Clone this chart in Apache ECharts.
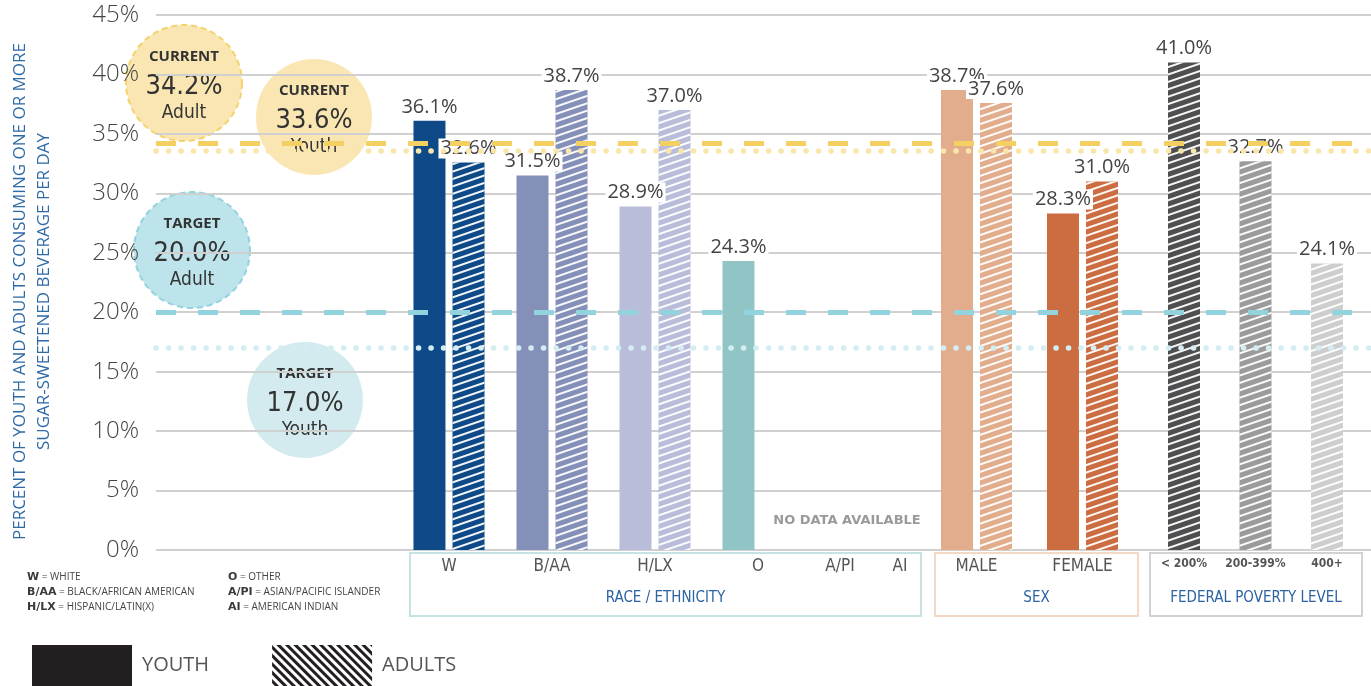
<!DOCTYPE html>
<html>
<head>
<meta charset="utf-8">
<title>Sugar-sweetened beverages</title>
<script src="https://cdn.jsdelivr.net/npm/echarts@6/dist/echarts.min.js"></script>
<style>
html, body { margin: 0; padding: 0; background: #fff; }
#chart { width: 1371px; height: 686px; }
</style>
</head>
<body>
<div id="chart"></div>
<script>
// data
var raceCats = ['W', 'B/AA', 'H/LX', 'O'];
var raceYouth = [36.1, 31.5, 28.9, 24.3];
var raceAdults = [32.6, 38.7, 37.0, null];
var noDataCats = ['A/PI', 'AI'];
var sexCats = ['MALE', 'FEMALE'];
var sexYouth = [38.7, 28.3];
var sexAdults = [37.6, 31.0];
var fplCats = ['< 200%', '200-399%', '400+'];
var fplAdults = [41.0, 32.7, 24.1];
var currentAdult = 34.2;
var currentYouth = 33.6;
var targetAdult = 20.0;
var targetYouth = 17.0;
var groupNames = ['RACE / ETHNICITY', 'SEX', 'FEDERAL POVERTY LEVEL'];
var abbrShort = ['W', 'B/AA', 'H/LX', 'O', 'A/PI', 'AI'];
var abbrLong = ['WHITE', 'BLACK/AFRICAN AMERICAN', 'HISPANIC/LATIN(X)', 'OTHER', 'ASIAN/PACIFIC ISLANDER', 'AMERICAN INDIAN'];

var raceColors = ['#0e4a88', '#8590b9', '#b9bdd9', '#91c5c5'];
var sexColors = ['#e2ad8c', '#cb6d40'];
var fplColors = ['#4f4f51', '#9b9b9b', '#cecece'];

var narrow = "'Liberation Sans Narrow', 'DejaVu Sans Condensed', 'Roboto', sans-serif";
var sans = "'Open Sans', 'Noto Sans', sans-serif";

var chartObj = {
    chart : null,
    top : 15,
    bottom : 136,
    init : function() {
        this.chart = echarts.init(document.getElementById('chart'));
        this.chart.setOption(this.buildOption());
    },
    stripe : function() {
        return {
            symbol : 'rect',
            symbolSize : 1,
            dashArrayX : [1, 0],
            dashArrayY : [2, 4.6],
            rotation : -0.33,
            color : 'rgba(255,255,255,0.95)'
        };
    },
    coloured : function(values, colors) {
        var out = [];
        values.forEach(function(v, i) {
            out.push({
                value : v,
                itemStyle : {
                    color : colors[i]
                }
            });
        });
        return out;
    },
    barLabel : function() {
        return {
            show : true,
            position : 'top',
            distance : 4,
            fontFamily : sans,
            fontSize : 20,
            color : '#444',
            backgroundColor : '#fff',
            padding : [0, 2],
            formatter : function(p) {
                return p.value == null ? '' : p.value.toFixed(1) + '%';
            }
        };
    },
    catAxis : function(idx, cats, size, weight) {
        return {
            type : 'category',
            gridIndex : idx,
            data : cats,
            axisLine : {
                show : false
            },
            axisTick : {
                show : false
            },
            axisLabel : {
                interval : 0,
                margin : 8,
                fontFamily : narrow,
                fontSize : size,
                fontWeight : weight,
                color : '#555'
            }
        };
    },
    hiddenY : function(idx) {
        return {
            type : 'value',
            gridIndex : idx,
            min : 0,
            max : 45,
            show : false
        };
    },
    barSeries : function(name, idx, values, colors, hatched) {
        var s = {
            name : name,
            type : 'bar',
            xAxisIndex : idx,
            yAxisIndex : idx,
            data : this.coloured(values, colors),
            barWidth : 32,
            barGap : '22%',
            itemStyle : {
                color : '#231f20'
            },
            label : this.barLabel(),
            z : 2
        };
        if (hatched) {
            s.itemStyle.decal = this.stripe();
        }
        return s;
    },
    bubble : function(cx, cy, head, value, who, fill, border) {
        var circle = {
            type : 'circle',
            shape : {
                cx : cx,
                cy : cy,
                r : 58
            },
            style : {
                fill : fill,
                opacity : 0.92,
                stroke : border || null,
                lineWidth : border ? 2 : 0,
                lineDash : border ? [6, 4] : null
            }
        };
        var txt = function(t, dy, size, weight, font) {
            return {
                type : 'text',
                x : cx,
                y : cy + dy,
                style : {
                    text : t,
                    fill : '#333',
                    font : weight + ' ' + size + 'px ' + font,
                    align : 'center',
                    verticalAlign : 'middle'
                }
            };
        };
        return {
            type : 'group',
            z : 20,
            children : [circle, txt(head, -26, 15, 'bold', sans), txt(value.toFixed(1) + '%', 4, 27, '500', narrow), txt(who, 30, 19, '500', narrow)]
        };
    },
    boxes : function() {
        var spec = [[410, 511, '#c7e2e2'], [935, 203, '#f6d8c6'], [1150, 212, '#d2d2d2']];
        var out = [];
        spec.forEach(function(b, i) {
            out.push({
                type : 'rect',
                shape : {
                    x : b[0],
                    y : 553,
                    width : b[1],
                    height : 63
                },
                style : {
                    fill : 'none',
                    stroke : b[2],
                    lineWidth : 2
                },
                z : 1
            });
            out.push({
                type : 'text',
                x : b[0] + b[1] / 2,
                y : 598,
                style : {
                    text : groupNames[i],
                    fill : '#2b63a3',
                    font : '15px ' + narrow,
                    align : 'center',
                    verticalAlign : 'middle'
                },
                z : 1
            });
        });
        return out;
    },
    footnote : function() {
        var cols = [[], []];
        abbrShort.forEach(function(a, i) {
            cols[i < 3 ? 0 : 1].push('{b|' + a + '} = ' + abbrLong[i]);
        });
        return cols.map(function(lines, i) {
            return {
                type : 'text',
                x : i === 0 ? 27 : 228,
                y : 570,
                style : {
                    text : lines.join('\n'),
                    fill : '#444',
                    font : '10px ' + sans,
                    lineHeight : 15,
                    rich : {
                        b : {
                            fontWeight : 'bold',
                            fontSize : 11,
                            fontFamily : "'DejaVu Sans', sans-serif",
                            fill : '#3a3a3a',
                            lineHeight : 15
                        }
                    }
                }
            };
        });
    },
    refLines : function() {
        var dashed = function(v, c) {
            return {
                yAxis : v,
                lineStyle : {
                    color : c,
                    width : 5,
                    type : [20, 22],
                    cap : 'butt'
                }
            };
        };
        var dotted = function(v, c) {
            return {
                yAxis : v,
                lineStyle : {
                    color : c,
                    width : 5.5,
                    type : [0.1, 12.4],
                    cap : 'round'
                }
            };
        };
        return [dashed(currentAdult, '#f4cf62'), dotted(currentYouth, '#f9e6aa'), dashed(targetAdult, '#92d3de'), dotted(targetYouth, '#d3edf2')];
    },
    buildOption : function() {
        var that = this;
        var grids = [[138, 1233], [397.5, 412], [810, 120], [923.5, 212], [1148.25, 214.5]];
        var option = {
            animation : false,
            backgroundColor : '#fff',
            grid : grids.map(function(g) {
                return {
                    left : g[0],
                    width : g[1],
                    top : that.top,
                    bottom : that.bottom
                };
            }),
            legend : {
                left : 27,
                top : 640,
                icon : 'rect',
                itemWidth : 100,
                itemHeight : 41,
                itemGap : 63,
                selectedMode : false,
                data : [{
                    name : 'YOUTH',
                    itemStyle : {
                        color : '#231f20'
                    }
                }, {
                    name : 'ADULTS',
                    itemStyle : {
                        color : '#fff',
                        decal : {
                            symbol : 'rect',
                            symbolSize : 1,
                            dashArrayX : [1, 0],
                            dashArrayY : [2.6, 2.6],
                            rotation : Math.PI / 4,
                            color : '#231f20'
                        }
                    }
                }],
                textStyle : {
                    fontFamily : sans,
                    fontSize : 20,
                    color : '#555',
                    padding : [0, 0, 0, 5]
                }
            },
            xAxis : [{
                type : 'value',
                gridIndex : 0,
                min : 0,
                max : 1,
                show : false
            }, that.catAxis(1, raceCats, 17, 'normal'), that.catAxis(2, noDataCats, 17, 'normal'), that.catAxis(3, sexCats, 17, 'normal'), that.catAxis(4, fplCats, 12, 'bold')],
            yAxis : [{
                type : 'value',
                gridIndex : 0,
                min : 0,
                max : 45,
                interval : 5,
                name : 'PERCENT OF YOUTH AND ADULTS CONSUMING ONE OR MORE\nSUGAR-SWEETENED BEVERAGE PER DAY',
                nameLocation : 'middle',
                nameGap : 100,
                nameTextStyle : {
                    color : '#2e6aa6',
                    fontFamily : sans,
                    fontSize : 17,
                    lineHeight : 24,
                    padding : [0, 18, 0, 0]
                },
                axisLine : {
                    show : false
                },
                axisTick : {
                    show : false
                },
                axisLabel : {
                    formatter : '{value}%',
                    margin : 17,
                    fontFamily : sans,
                    fontSize : 24,
                    fontWeight : 300,
                    color : '#444'
                },
                splitLine : {
                    lineStyle : {
                        color : '#d0d0d0',
                        width : 2
                    }
                }
            }, that.hiddenY(1), that.hiddenY(2), that.hiddenY(3), that.hiddenY(4)],
            series : [
                that.barSeries('YOUTH', 1, raceYouth, raceColors, false),
                that.barSeries('ADULTS', 1, raceAdults, raceColors, true),
                that.barSeries('YOUTH', 3, sexYouth, sexColors, false),
                that.barSeries('ADULTS', 3, sexAdults, sexColors, true),
                that.barSeries('ADULTS', 4, fplAdults, fplColors, true),
                {
                    name : 'targets',
                    type : 'line',
                    xAxisIndex : 0,
                    yAxisIndex : 0,
                    data : [],
                    z : 5,
                    markLine : {
                        silent : true,
                        symbol : ['none', 'none'],
                        label : {
                            show : false
                        },
                        data : that.refLines()
                    }
                }
            ],
            graphic : that.boxes().concat(that.footnote()).concat([
                that.bubble(184, 83, 'CURRENT', currentAdult, 'Adult', '#f9e4ad', '#f4cf62'),
                that.bubble(314, 117, 'CURRENT', currentYouth, 'Youth', '#f9e4ad'),
                that.bubble(192, 250, 'TARGET', targetAdult, 'Adult', '#b7e1e9', '#8ccfdc'),
                that.bubble(305, 400, 'TARGET', targetYouth, 'Youth', '#cfe9ee'),
                {
                    type : 'text',
                    x : 847,
                    y : 521,
                    z : 10,
                    style : {
                        text : 'NO DATA AVAILABLE',
                        fill : '#9a9a9a',
                        font : 'bold 13px DejaVu Sans, sans-serif',
                        align : 'center',
                        verticalAlign : 'middle'
                    }
                }
            ])
        };
        return option;
    }
};
chartObj.init();
</script>
</body>
</html>
